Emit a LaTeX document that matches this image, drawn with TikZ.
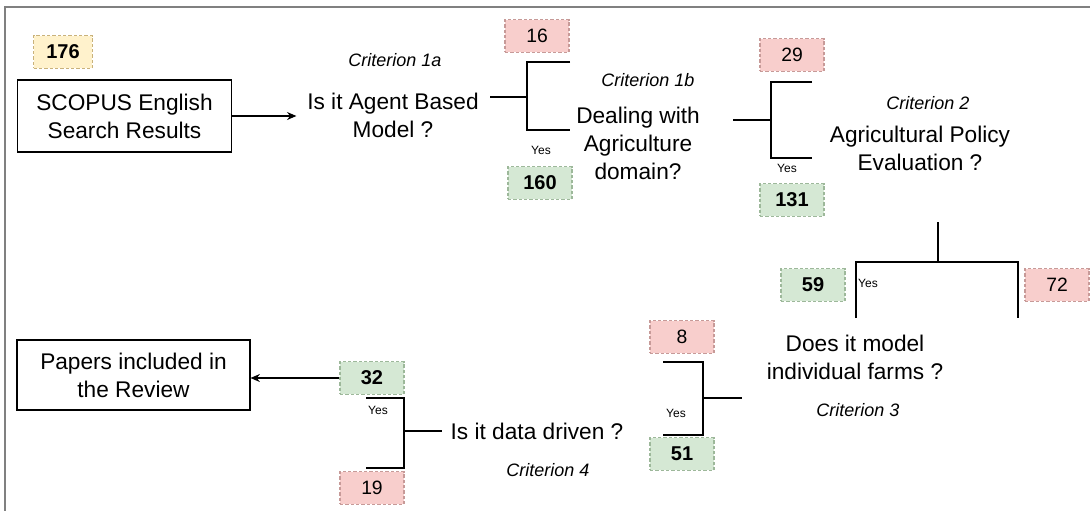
\documentclass[tikz,border=0pt]{standalone}
\usepackage{fontspec}
\setmainfont{Liberation Sans}
\usetikzlibrary{arrows.meta}
\definecolor{yelfill}{HTML}{FFF2CC}
\definecolor{yelline}{HTML}{C9B27A}
\definecolor{redfill}{HTML}{F8CECC}
\definecolor{redline}{HTML}{C79A98}
\definecolor{grnfill}{HTML}{D5E8D4}
\definecolor{grnline}{HTML}{9DB89A}
\begin{document}
\begin{tikzpicture}[>={Stealth[length=7pt,width=6pt]}, x=0.75pt, y=-0.75pt]
\tikzstyle{every node}=[font=\fontsize{17}{21}\selectfont, align=center, inner sep=0pt]
\tikzstyle{count}=[draw, dashed, line width=0.8pt, dash pattern=on 2.5pt off 1.5pt, minimum width=48pt, minimum height=24.5pt, font=\fontsize{14.5}{16}\selectfont]
\tikzstyle{pass}=[count, fill=grnfill, draw=grnline, font=\fontsize{15}{16}\selectfont\bfseries]
\tikzstyle{fail}=[count, fill=redfill, draw=redline]
\tikzstyle{crit}=[font=\fontsize{13.5}{16}\selectfont\itshape]
\tikzstyle{yes}=[font=\fontsize{9}{10}\selectfont]
\tikzstyle{bracket}=[line width=2.2pt]
\useasboundingbox (0,0) rectangle (1090,511);
\draw[gray, line width=1.2pt] (1090,7) -- (5,7) -- (5,511);
% start
\node[count, fill=yelfill, draw=yelline, minimum width=44pt, font=\fontsize{15}{16}\selectfont\bfseries] (n176) at (63,52) {176};
\node[draw, line width=0.8pt, minimum width=161pt, minimum height=54pt] (scopus) at (124.5,116) {SCOPUS English\\Search Results};
% criterion 1a
\node[crit] (c1a) at (395,60) {Criterion 1a};
\node (q1) at (393,115) {Is it Agent Based\\Model ?};
\draw[->, line width=0.8pt] (scopus.east) -- ++(48pt,0);
\draw[bracket] (490,97) -- (527,97);
\draw[bracket] (570,62) -| (527,130) -- (570,130);
\node[fail] (n16) at (537,36) {16};
\node[yes] (y1) at (541,150) {Yes};
\node[pass] (n160) at (540,183) {160};
% criterion 1b
\node[crit] (c1b) at (648,80) {Criterion 1b};
\node (q2) at (638,143) {Dealing with\\Agriculture\\domain?};
\draw[bracket] (733,120) -- (771,120);
\draw[bracket] (812,82) -| (771,158) -- (812,158);
\node[fail] (n29) at (792,55) {29};
\node[yes] (y2) at (787,168) {Yes};
\node[pass] (n131) at (792,200) {131};
% criterion 2
\node[crit] (c2) at (928,103) {Criterion 2};
\node (q3) at (920,148) {Agricultural Policy\\Evaluation ?};
\draw[bracket] (938,222) -- (938,262);
\draw[bracket] (856,318) |- (1018,262) -- (1018,318);
\node[pass] (n59) at (813,285) {59};
\node[yes] (y3) at (868,283) {Yes};
\node[fail] (n72) at (1057,285) {72};
% criterion 3
\node (q4) at (855,357) {Does it model\\individual farms ?};
\node[crit] (c3) at (858,410) {Criterion 3};
\draw[bracket] (663,362) -| (703,435) -- (663,435);
\draw[bracket] (703,398) -- (742,398);
\node[fail] (n8) at (682,337) {8};
\node[yes] (y4) at (676,413) {Yes};
\node[pass] (n51) at (682,454) {51};
% criterion 4
\node (q5) at (537,431) {Is it data driven ?};
\node[crit] (c4) at (548,470) {Criterion 4};
\draw[bracket] (366,398) -| (404,468) -- (366,468);
\draw[bracket] (404,431) -- (442,431);
\node[pass] (n32) at (372,378) {32};
\node[yes] (y5) at (378,410) {Yes};
\node[fail] (n19) at (372,488) {19};
% result
\node[draw, line width=0.8pt, minimum width=174.75pt, minimum height=52.5pt] (papers) at (133.5,375) {Papers included in\\the Review};
\draw[->, line width=0.8pt] (n32.west) -- (n32.west -| papers.east);
\end{tikzpicture}
\end{document}
